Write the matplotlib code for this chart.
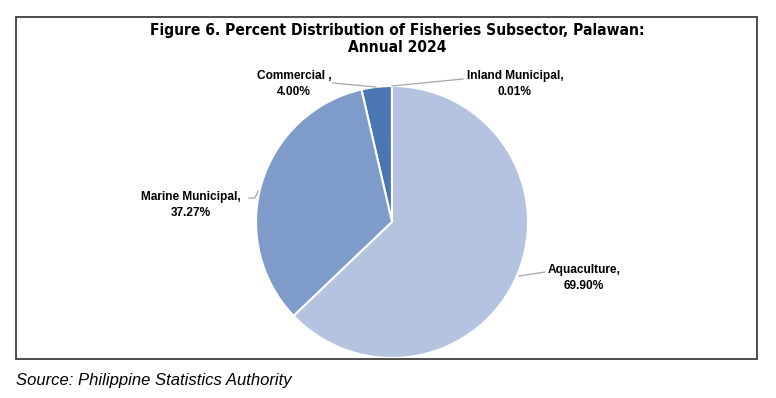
import matplotlib.pyplot as plt
from matplotlib.patches import Rectangle

# data
sectors = ['Aquaculture', 'Marine Municipal', 'Commercial', 'Inland Municipal']
shares = [69.90, 37.27, 4.00, 0.01]
label_text = ['Aquaculture,\n69.90%', 'Marine Municipal,\n37.27%',
              'Commercial ,\n4.00%', 'Inland Municipal,\n0.01%']
colors = ['#b4c3df', '#7f9bc9', '#4a77b3', '#2f5597']

W, H = 776, 398
fig = plt.figure(figsize=(W / 100, H / 100), dpi=100)

# outer frame
fig.add_artist(Rectangle((16 / W, 1 - 359 / H), (757 - 16) / W, (359 - 17) / H,
                         transform=fig.transFigure, fill=False,
                         edgecolor='#404040', linewidth=1.3))

title_font = dict(ha='center', va='center', fontsize=11.2, fontweight='bold',
                  fontstretch='condensed', family=['DejaVu Sans'])
fig.text(397 / W, 1 - 30 / H, 'Figure 6. Percent Distribution of Fisheries Subsector, Palawan:',
         **title_font)
fig.text(397 / W, 1 - 47 / H, 'Annual 2024', **title_font)

fig.text(16 / W, 1 - 380 / H, 'Source: Philippine Statistics Authority',
         ha='left', va='center', fontsize=12, style='italic',
         family=['Liberation Sans', 'DejaVu Sans'])

# pie axes: centre (392, 222), radius 136 px
cx, cy, r = 392, 222, 136
ax = fig.add_axes([(cx - r) / W, 1 - (cy + r) / H, 2 * r / W, 2 * r / H])
# Inland Municipal sits right at the top, so go counterclockwise from 90 deg
order = [3, 2, 1, 0]
wedges, _ = ax.pie([shares[i] for i in order], colors=[colors[i] for i in order],
                   startangle=90, counterclock=True, radius=1,
                   wedgeprops=dict(edgecolor='white', linewidth=1.5))
ax.set_xlim(-1, 1)
ax.set_ylim(-1, 1)
ax.set_aspect('equal')
ax.axis('off')


def px(x, y):
    return ((x - cx) / r, (cy - y) / r)


# label positions (text centre) and leader line points, in image pixels
label_pos = {
    'Aquaculture': (584, 278),
    'Marine Municipal': (191, 205),
    'Commercial': (294, 84),
    'Inland Municipal': (515, 84),
}
leaders = {
    'Aquaculture': [(519, 276), (545, 272)],
    'Marine Municipal': [(258, 191), (255, 198), (249, 198)],
    'Commercial': [(333, 83), (376, 87)],
    'Inland Municipal': [(392, 86), (463, 79)],
}

lab_font = dict(fontsize=8.6, fontweight='bold', ha='center', va='center',
                family=['Liberation Sans', 'DejaVu Sans'], linespacing=1.55)
for name, txt in zip(sectors, label_text):
    x, y = px(*label_pos[name])
    ax.text(x, y, txt, clip_on=False, **lab_font)
    pts = [px(*p) for p in leaders[name]]
    ax.plot([p[0] for p in pts], [p[1] for p in pts], color='#a6a6a6',
            linewidth=0.9, clip_on=False)

fig.savefig('out.png', dpi=100)
